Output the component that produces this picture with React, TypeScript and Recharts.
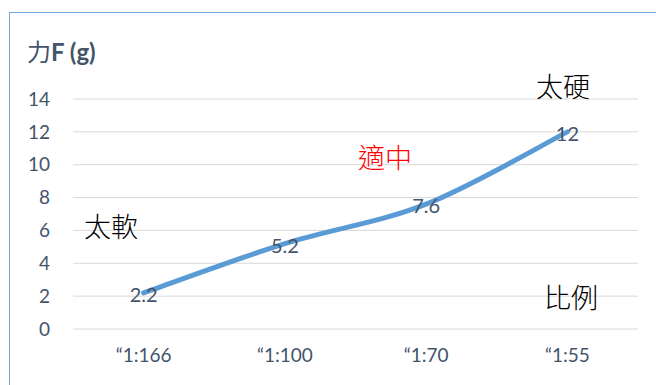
import React from 'react';
import { LineChart, Line, XAxis, YAxis, CartesianGrid, LabelList } from 'recharts';

const categories = ['\u201C1:166', '\u201C1:100', '\u201C1:70', '\u201C1:55'];
const forceValues = [2.2, 5.2, 7.6, 12];
const yTicks = [0, 2, 4, 6, 8, 10, 12, 14];
const boundaryTicks = [0, 1, 2, 3, 4];

const data = categories.map((name, i) => ({ name, force: forceValues[i], pos: i + 0.5 }));

const TEXT = '#44546A';
const LATIN = 'Lato, "Noto Sans CJK TC", sans-serif';
const CJK = '"Noto Sans CJK TC", sans-serif';

const notes = [
  { text: '太軟', x: 111, y: 226, color: '#000' },
  { text: '太硬', x: 563, y: 86, color: '#000' },
  { text: '適中', x: 385, y: 157, color: '#FF0000' },
  { text: '比例', x: 571, y: 297, color: '#000' },
];

// smoothed line like office charts (catmull-rom as cubic bezier)
const smoothCurve = (ctx: any) => {
  let pts: number[][] = [];
  return {
    areaStart() {},
    areaEnd() {},
    lineStart() { pts = []; },
    point(x: number, y: number) { pts.push([+x, +y]); },
    lineEnd() {
      if (!pts.length) return;
      ctx.moveTo(pts[0][0], pts[0][1]);
      for (let i = 0; i < pts.length - 1; i++) {
        const p0 = pts[i - 1] || pts[i];
        const p1 = pts[i];
        const p2 = pts[i + 1];
        const p3 = pts[i + 2] || p2;
        ctx.bezierCurveTo(
          p1[0] + (p2[0] - p0[0]) / 6, p1[1] + (p2[1] - p0[1]) / 6,
          p2[0] - (p3[0] - p1[0]) / 6, p2[1] - (p3[1] - p1[1]) / 6,
          p2[0], p2[1],
        );
      }
    },
  };
};

export default function App() {
  return (
    <div style={{ position: 'absolute', left: 0, top: 0, width: 656, height: 385, background: '#fff', overflow: 'hidden' }}>
      <div
        style={{
          position: 'absolute', left: 9, top: 12, width: 700, height: 400,
          borderLeft: '1px solid #6FA8DC', borderTop: '1px solid #6FA8DC',
        }}
      />
      <div style={{ position: 'absolute', left: 27, top: 36, lineHeight: '30px', fontSize: 24, color: TEXT, whiteSpace: 'nowrap' }}>
        <span style={{ fontFamily: CJK }}>力</span>
        <span style={{ fontFamily: LATIN, fontWeight: 700 }}>F (g)</span>
      </div>
      <LineChart
        width={656}
        height={385}
        data={data}
        margin={{ top: 99, right: 18, bottom: 0, left: 0 }}
        style={{ position: 'absolute', left: 0, top: 0 }}
      >
        <CartesianGrid vertical={false} stroke="#D9D9D9" />
        <XAxis
          xAxisId="edge"
          type="number"
          dataKey="pos"
          domain={[0, 4]}
          ticks={boundaryTicks}
          tick={false}
          height={0}
          axisLine={{ stroke: '#D9D9D9' }}
          tickLine={{ stroke: '#D9D9D9' }}
          tickSize={7}
        />
        <XAxis
          dataKey="name"
          height={56}
          padding={{ left: 70.6, right: 70.6 }}
          axisLine={false}
          tickLine={false}
          tickMargin={14}
          tick={{ fill: TEXT, fontSize: 19, fontFamily: LATIN }}
        />
        <YAxis
          domain={[0, 14]}
          ticks={yTicks}
          width={73}
          axisLine={false}
          tickLine={false}
          tickMargin={17}
          tick={{ fill: TEXT, fontSize: 19, fontFamily: LATIN }}
        />
        <Line
          type={smoothCurve as any}
          dataKey="force"
          stroke="#5B9BD5"
          strokeWidth={5}
          strokeLinecap="round"
          dot={false}
          isAnimationActive={false}
        >
          <LabelList
            dataKey="force"
            position="center"
            dy={2}
            fill={TEXT}
            fontSize={20}
            fontFamily={LATIN}
          />
        </Line>
      </LineChart>
      {notes.map((n) => (
        <div
          key={n.text}
          style={{
            position: 'absolute', left: n.x - 40, top: n.y - 18, width: 80, height: 36,
            lineHeight: '36px', textAlign: 'center', fontSize: 27, fontFamily: CJK,
            fontWeight: 300, color: n.color,
          }}
        >
          {n.text}
        </div>
      ))}
    </div>
  );
}
